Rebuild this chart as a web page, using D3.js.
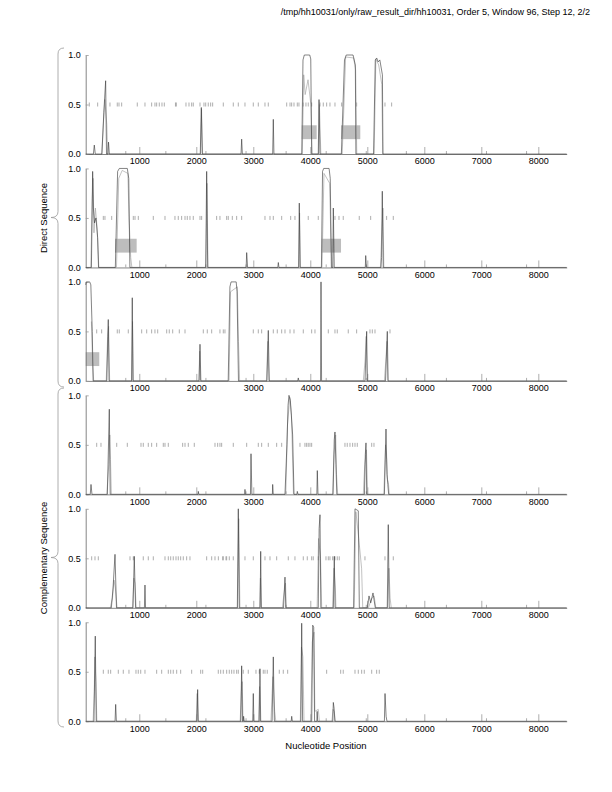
<!DOCTYPE html>
<html>
<head>
<meta charset="utf-8">
<script src="https://cdn.jsdelivr.net/npm/d3@7"></script>
<style>
  body { margin: 0; background: #fff; }
  svg text { font-family: "Liberation Sans", Arial, Helvetica, sans-serif; }
  .axis text { font-size: 9px; fill: #000; }
  .axis .tick line { stroke: #999; stroke-width: 0.8; }
  .axis path.domain { stroke: #666; stroke-width: 0.8; }
  .stop { stroke: #999; stroke-width: 0.8; }
  .minor { stroke: #999; stroke-width: 0.8; }
  .box { fill: #bdbdbd; }
  .line-gray { fill: none; stroke: #a8a8a8; stroke-width: 0.7; }
  .line-black { fill: none; stroke: #333; stroke-width: 0.6; }
  .brace { fill: none; stroke: #999; stroke-width: 0.8; }
  .label { font-size: 9.5px; fill: #000; }
</style>
</head>
<body>
<svg id="chart"></svg>
<script>
// ---- data ----
const titleText = '/tmp/hh10031/only/raw_result_dir/hh10031, Order 5, Window 96, Step 12, 2/2';
const xDomain = [60, 8498];
const xTicks = [1000, 2000, 3000, 4000, 5000, 6000, 7000, 8000];
const xMinorTicks = [763, 1466, 2169, 2873, 3576, 4279, 4982, 5685, 6388, 7091, 7794];
const yTicks = [0, 0.5, 1.0];
const boxRange = [0.15, 0.29];

// panel 1 (direct, frame 1)
const p1Black = [[60,0],[195,0],[211,0.09],[228,0],[345,0],[378,0.42],[410,0.74],[425,0],[450,0],[460,0.12],[475,0],
  [2070,0],[2088,0.47],[2105,0],[2785,0],[2796,0.15],[2808,0],[3340,0],[3351,0.35],[3362,0],
  [3850,0],[3872,0.95],[3895,1.0],[3990,1.0],[4008,0.96],[4025,0],[4140,0],[4153,0.55],[4170,0],
  [4545,0],[4600,0.95],[4630,1.0],[4750,1.0],[4790,0.9],[4800,0],[5110,0],[5140,0.95],[5165,0.97],[5190,0.93],[5220,0.95],[5265,0.8],[5275,0],[8498,0]];
const p1Gray = [[340,0],[395,0.55],[430,0.3],[445,0],[2075,0],[2092,0.45],[2110,0],
  [3860,0],[3885,0.8],[3910,0.6],[3960,0.75],[4010,0.5],[4030,0],[4145,0],[4160,0.5],[4185,0],
  [4560,0],[4620,0.98],[4760,0.97],[4795,0.85],[4815,0],[5120,0],[5150,0.96],[5200,0.9],[5255,0.7],[5270,0]];
const p1Stops = [123,270,486,614,644,691,965,1100,1217,1275,1305,1351,1398,1439,1635,1650,1819,1872,1919,1947,2065,2135,2165,2210,2252,2287,
  2474,2649,2737,2854,3000,3088,3205,3263,3586,3644,3673,3714,3772,3801,3877,3924,3964,4024,4170,4228,4287,4345,4433,4550,4813,5310,5427];
const p1Boxes = [[3850, 4112], [4539, 4877]];

// panel 2 (direct, frame 2)
const p2Black = [[60,0],[160,0],[182,0.97],[195,0.6],[215,0.45],[240,0.5],[270,0.3],[285,0],
  [580,0],[620,0.97],[650,1.0],[790,1.0],[815,0.9],[835,0],[2165,0],[2182,0.97],[2200,0],
  [2875,0],[2884,0.15],[2900,0],[3430,0],[3439,0.05],[3450,0],[3795,0],[3807,0.65],[3822,0],
  [4195,0],[4215,0.97],[4235,1.0],[4330,1.0],[4350,0.9],[4370,0],[4395,0],[4404,0.6],[4420,0],
  [4965,0],[4972,0.12],[4985,0],[5240,0],[5250,0.1],[5263,0.77],[5280,0],[8498,0]];
const p2Gray = [[150,0],[175,0.7],[190,0.9],[205,0.35],[230,0.6],[260,0.4],[290,0],
  [600,0],[640,0.9],[700,0.98],[800,0.95],[820,0.5],[850,0.1],[870,0],[2170,0],[2188,0.85],[2205,0],
  [3800,0],[3812,0.55],[3825,0],[4205,0],[4240,0.95],[4340,0.85],[4360,0.3],[4380,0],
  [5230,0],[5258,0.4],[5275,0.6],[5290,0]];
const p2Stops = [369,398,516,895,925,983,1246,1451,1626,1684,1743,1802,1842,1889,1947,2065,2094,2357,2415,2533,
  2561,2632,2708,2796,3205,3293,3351,3498,3656,3731,3964,4140,4433,4503,4578,4859,5059,5339,5456];
const p2Boxes = [[574, 954], [4200, 4539]];

// panel 3 (direct, frame 3)
const p3Black = [[60,0.97],[70,1.0],[130,1.0],[150,0.97],[175,0.5],[190,0],[430,0],[456,0.62],[470,0],
  [865,0],[877,0.84],[890,0],[2050,0],[2065,0.37],[2080,0],[2560,0],[2590,0.95],[2610,1.0],[2700,1.0],[2715,0.9],[2740,0],
  [3240,0],[3263,0.51],[3280,0],[3780,0],[3789,0.03],[3800,0],[4180,0],[4188,1.0],[4198,0],
  [4960,0],[4989,0.5],[5000,0],[5320,0],[5351,0.5],[5365,0],[8498,0]];
const p3Gray = [[160,0.6],[180,0.2],[200,0],[420,0],[445,0.45],[462,0.55],[480,0],[870,0],[882,0.6],[895,0],
  [2045,0],[2060,0.3],[2075,0],[2575,0],[2600,0.9],[2720,0.95],[2740,0.4],[2760,0],[3230,0],[3255,0.4],[3275,0],
  [4930,0],[4960,0.2],[4980,0.45],[5000,0],[5300,0],[5330,0.25],[5345,0.4],[5360,0]];
const p3Stops = [253,340,614,649,807,1042,1130,1217,1275,1323,1481,1526,1586,1702,1802,2123,2193,2270,2415,2474,
  2503,3000,3088,3147,3351,3421,3498,3556,3644,3714,3877,4024,4082,4316,4433,4473,4666,4813,5047,5088,5135,5398];
const p3Boxes = [[60, 298]];

// panel 4 (complementary, frame 1)
const p4Black = [[60,0],[140,0],[153,0.1],[170,0],[440,0],[474,0.86],[490,0],[2030,0],[2035,0.03],[2045,0],
  [2850,0],[2854,0.05],[2860,0],[2950,0],[2960,0.41],[2975,0],[3335,0],[3340,0.1],[3350,0],
  [3556,0],[3590,0.5],[3610,0.9],[3626,1.0],[3650,0.95],[3690,0.6],[3714,0],[3765,0],[3772,0.03],[3785,0],
  [4115,0],[4123,0.24],[4135,0],[4400,0],[4420,0.55],[4433,0.63],[4450,0.3],[4465,0],
  [4950,0],[4965,0.4],[4977,0.52],[4990,0],[5300,0],[5328,0.66],[5345,0.2],[5360,0.1],[5375,0],[8498,0]];
const p4Gray = [[430,0],[465,0.3],[483,0.6],[495,0.35],[510,0],[3570,0],[3600,0.7],[3640,0.98],[3670,0.8],[3705,0],
  [4390,0],[4415,0.4],[4445,0.6],[4460,0.2],[4480,0],[4930,0],[4955,0.3],[4985,0.45],[5005,0],
  [5290,0],[5320,0.5],[5340,0.35],[5355,0.15],[5370,0.12],[5385,0]];
const p4Stops = [253,328,604,790,1030,1070,1158,1217,1305,1421,1451,1509,1761,1802,1860,1965,2328,2375,2415,
  2445,2649,2884,3088,3147,3263,3410,3498,3819,3906,3936,3964,3994,4024,4608,4648,4696,4743,4784,4824,5077,5117];

// panel 5 (complementary, frame 2)
const p5Black = [[60,0],[510,0],[540,0.2],[574,0.54],[600,0],[890,0],[912,0.52],[935,0],[1090,0],[1100,0.23],[1110,0],
  [2720,0],[2737,1.0],[2755,0],[3120,0],[3130,0.57],[3140,0],[3530,0],[3556,0.31],[3570,0],
  [4140,0],[4155,0.8],[4170,0.94],[4185,0],[4405,0],[4421,0.52],[4435,0],[4760,0],[4784,1.0],[4842,0.98],[4860,0],
  [5000,0],[5030,0.12],[5060,0.05],[5100,0.15],[5140,0],[5350,0],[5368,0.84],[5385,0],[8498,0]];
const p5Gray = [[490,0],[530,0.1],[556,0.28],[580,0.2],[610,0],[880,0],[905,0.3],[925,0.25],[945,0],
  [2725,0],[2745,0.9],[2765,0],[3110,0],[3125,0.3],[3140,0],[3510,0],[3540,0.15],[3565,0.25],[3580,0],
  [4120,0],[4145,0.7],[4180,0.5],[4200,0],[4390,0],[4415,0.4],[4440,0.2],[4450,0],
  [4770,0],[4800,0.97],[4850,0.7],[4900,0.4],[4920,0],[5020,0],[5080,0.1],[5120,0.12],[5150,0],
  [5355,0],[5380,0.4],[5400,0.1],[5420,0]];
const p5Stops = [165,223,281,837,895,1070,1158,1246,1451,1509,1551,1596,1644,1684,1726,1772,1831,1889,2182,2270,2328,2387,2463,2521,
  2474,2533,2579,2649,2854,3000,3205,3293,3410,3614,3731,3877,3947,4024,4052,4140,4275,4316,4345,4392,4433,4473,4508,4959,5310,5456];

// panel 6 (complementary, frame 3)
const p6Black = [[60,0],[205,0],[228,0.86],[245,0],[575,0],[586,0.17],[598,0],[2010,0],[2024,0.32],[2035,0],
  [2780,0],[2796,0.56],[2810,0],[2825,0],[2830,0.05],[2840,0],[2990,0],[3000,0.28],[3010,0],[3105,0],[3117,0.53],[3130,0],
  [3330,0],[3351,0.65],[3370,0],[3665,0],[3674,0.05],[3685,0],[3835,0],[3849,0.99],[3865,0],
  [4025,0],[4042,0.97],[4060,0.95],[4075,0],[4115,0],[4120,0.1],[4130,0],[4395,0],[4404,0.19],[4418,0.13],[4430,0],
  [5300,0],[5311,0.28],[5330,0.05],[5345,0],[8498,0]];
const p6Gray = [[190,0],[210,0.3],[220,0.65],[240,0.4],[255,0],[2000,0],[2015,0.28],[2030,0],
  [2770,0],[2790,0.3],[2805,0.4],[2820,0],[3090,0],[3110,0.35],[3125,0],[3310,0],[3330,0.28],[3345,0.45],[3375,0.1],[3395,0],
  [3825,0],[3845,0.75],[3870,0.65],[3890,0],[4010,0],[4035,0.8],[4065,0.9],[4080,0.1],[4140,0.12],[4160,0],
  [4380,0],[4398,0.12],[4420,0.1],[4440,0]];
const p6Stops = [369,456,498,632,719,819,942,982,1025,1100,1305,1393,1509,1551,1596,1656,1726,1919,2077,2112,
  2386,2428,2474,2533,2579,2621,2661,2708,2737,2824,2912,3047,3105,3175,3205,3245,3456,3526,3603,
  4287,4533,4578,4784,4842,4901,4947,5077,5164,5210];

class CodingPanel {

  /**
   * One strand/frame panel
   */
  constructor(_config, _black, _gray, _stops, _boxes) {
    this.config = {
      parentElement: _config.parentElement,
      top: _config.top,
      left: _config.left || 85.7,
      width: _config.width || 481,
      height: _config.height || 99
    }
    this.black = _black;
    this.gray = _gray;
    this.stops = _stops;
    this.boxes = _boxes || [];
    this.initVis();
  }

  initVis() {
    let vis = this;

    vis.xScale = d3.scaleLinear()
        .domain(xDomain)
        .range([0, vis.config.width]);

    vis.yScale = d3.scaleLinear()
        .domain([0, 1])
        .range([vis.config.height, 0]);

    vis.xAxis = d3.axisBottom(vis.xScale)
        .tickValues(xTicks)
        .tickSize(-7)
        .tickSizeOuter(0)
        .tickPadding(4)
        .tickFormat(d3.format('d'));

    vis.yAxis = d3.axisLeft(vis.yScale)
        .tickValues(yTicks)
        .tickSize(-3)
        .tickSizeOuter(0)
        .tickPadding(5)
        .tickFormat(d3.format('.1f'));

    vis.chart = d3.select(vis.config.parentElement).append('g')
        .attr('transform', `translate(${vis.config.left},${vis.config.top})`);

    vis.line = d3.line()
        .x(d => vis.xScale(d[0]))
        .y(d => vis.yScale(d[1]));

    vis.renderVis();
  }

  renderVis() {
    let vis = this;

    // gray boxes (predicted regions)
    vis.chart.selectAll('.box')
        .data(vis.boxes)
      .join('rect')
        .attr('class', 'box')
        .attr('x', d => vis.xScale(d[0]))
        .attr('width', d => vis.xScale(d[1]) - vis.xScale(d[0]))
        .attr('y', vis.yScale(boxRange[1]))
        .attr('height', vis.yScale(boxRange[0]) - vis.yScale(boxRange[1]));

    // stop codon marks on the 0.5 row
    vis.chart.selectAll('.stop')
        .data(vis.stops)
      .join('line')
        .attr('class', 'stop')
        .attr('x1', d => vis.xScale(d))
        .attr('x2', d => vis.xScale(d))
        .attr('y1', vis.yScale(0.5) - 2)
        .attr('y2', vis.yScale(0.5) + 2);

    vis.xAxisG = vis.chart.append('g')
        .attr('class', 'axis x-axis')
        .attr('transform', `translate(0,${vis.config.height})`)
        .call(vis.xAxis);

    vis.yAxisG = vis.chart.append('g')
        .attr('class', 'axis y-axis')
        .call(vis.yAxis);

    // short ticks along the bottom
    vis.chart.selectAll('.minor')
        .data(xMinorTicks)
      .join('line')
        .attr('class', 'minor')
        .attr('x1', d => vis.xScale(d))
        .attr('x2', d => vis.xScale(d))
        .attr('y1', vis.config.height)
        .attr('y2', vis.config.height - 3);

    vis.chart.append('path')
        .attr('class', 'line-gray')
        .attr('d', vis.line(vis.gray));

    vis.chart.append('path')
        .attr('class', 'line-black')
        .attr('d', vis.line(vis.black));
  }
}

const svg = d3.select('#chart')
    .attr('width', 612)
    .attr('height', 792);

svg.append('text')
    .attr('class', 'label')
    .attr('x', 590)
    .attr('y', 15)
    .attr('text-anchor', 'end')
    .style('font-size', '9px')
    .text(titleText);

const panels = [
  [p1Black, p1Gray, p1Stops, p1Boxes],
  [p2Black, p2Gray, p2Stops, p2Boxes],
  [p3Black, p3Gray, p3Stops, p3Boxes],
  [p4Black, p4Gray, p4Stops, []],
  [p5Black, p5Gray, p5Stops, []],
  [p6Black, p6Gray, p6Stops, []]
];

panels.forEach((p, i) => {
  new CodingPanel({ parentElement: '#chart', top: 55 + i * 113.45 }, p[0], p[1], p[2], p[3]);
});

// curly braces grouping the strands
function brace(y0, y1) {
  const m = (y0 + y1) / 2;
  return `M64,${y0} Q58,${y0} 58,${y0 + 6} L58,${m - 6} Q58,${m} 51,${m} Q58,${m} 58,${m + 6} L58,${y1 - 6} Q58,${y1} 64,${y1}`;
}
svg.append('path').attr('class', 'brace').attr('d', brace(48, 387));
svg.append('path').attr('class', 'brace').attr('d', brace(388, 727));

svg.append('text')
    .attr('class', 'label')
    .attr('transform', 'translate(47,218) rotate(-90)')
    .attr('text-anchor', 'middle')
    .text('Direct Sequence');

svg.append('text')
    .attr('class', 'label')
    .attr('transform', 'translate(47,558) rotate(-90)')
    .attr('text-anchor', 'middle')
    .text('Complementary Sequence');

svg.append('text')
    .attr('class', 'label')
    .attr('x', 326)
    .attr('y', 749)
    .attr('text-anchor', 'middle')
    .text('Nucleotide Position');
</script>
</body>
</html>
